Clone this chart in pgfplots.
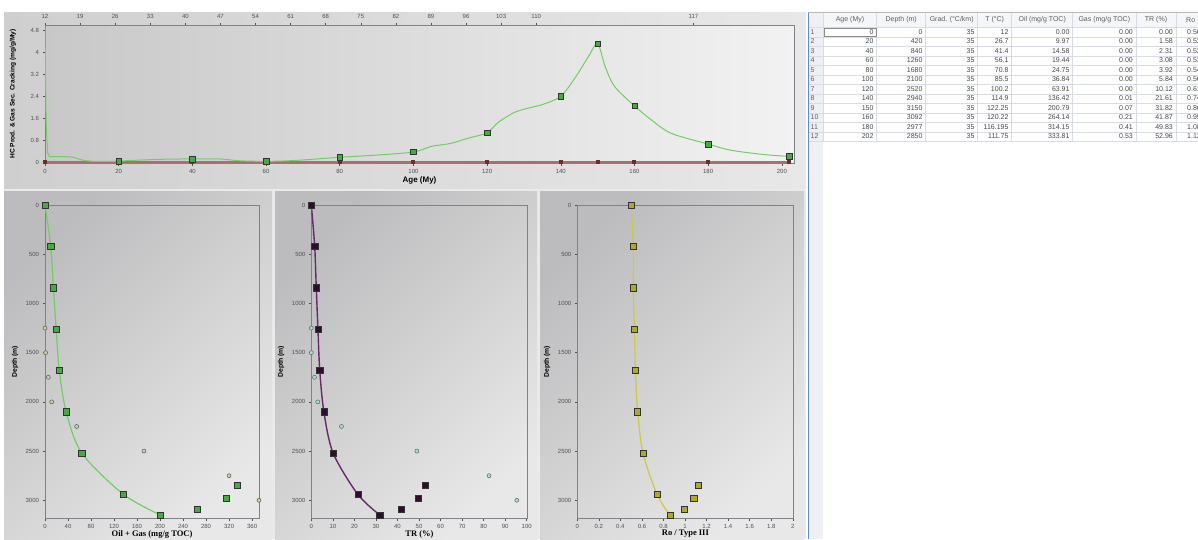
\documentclass[border=0pt]{standalone}
\usepackage{fontspec}
\setmainfont{Liberation Sans}
\newfontfamily\labserif{Liberation Serif}
\usepackage{pgfplots}
\pgfplotsset{compat=1.18}

\definecolor{tickc}{RGB}{80,80,80}
\definecolor{axc}{RGB}{128,130,138}
\definecolor{gline}{RGB}{115,205,100}
\definecolor{gfill}{RGB}{70,170,65}
\definecolor{gdraw}{RGB}{30,80,30}
\definecolor{rline}{RGB}{170,110,110}
\definecolor{rmark}{RGB}{110,45,45}
\definecolor{pline}{RGB}{105,40,105}
\definecolor{pfill}{RGB}{45,15,45}
\definecolor{oline}{RGB}{205,200,70}
\definecolor{ofill}{RGB}{175,170,35}
\definecolor{odraw}{RGB}{70,65,10}
\definecolor{c1fill}{RGB}{205,203,180}
\definecolor{c1draw}{RGB}{105,103,85}
\definecolor{c2fill}{RGB}{190,215,205}
\definecolor{c2draw}{RGB}{85,120,112}
\definecolor{pdark}{RGB}{188,188,190}
\definecolor{pmid}{RGB}{240,240,240}
\definecolor{plight}{RGB}{232,232,232}
\definecolor{panbase}{RGB}{234,234,234}
\definecolor{topL}{RGB}{207,207,207}
\definecolor{topR}{RGB}{232,232,232}
\definecolor{plotL}{RGB}{200,200,200}
\definecolor{plotR}{RGB}{242,242,242}
\definecolor{gridc}{RGB}{215,220,228}
\definecolor{tblue}{RGB}{90,140,205}
\definecolor{hdrbg}{RGB}{244,246,249}
\definecolor{rnbg}{RGB}{238,240,244}
\definecolor{ttext}{RGB}{72,72,72}
\definecolor{htext}{RGB}{95,95,95}

\pgfplotsset{
  base/.style={scale only axis, anchor=south west,
    axis line style={axc, line width=0.8pt},
    tick align=outside, major tick length=2.5pt,
    tick style={tickc, line width=0.5pt},
    ticklabel style={font=\fontsize{6}{6.5}\selectfont, text=tickc},
    /pgf/number format/assume math mode=true,
    /pgf/number format/set thousands separator={},
    xtick pos=bottom, ytick pos=left},
  depth/.style={base, y dir=reverse, ymin=0, ymax=3185, height=313.5pt,
    ytick={0,500,1000,1500,2000,2500,3000},
    ylabel={Depth (m)},
    ylabel style={at={(axis description cs:-0.14,0.5)}, anchor=center,
      font=\fontsize{6.8}{7}\selectfont\bfseries},
    xlabel style={at={(axis description cs:0.5,0)}, anchor=center, yshift=-15.5pt,
      font=\labserif\fontsize{8.5}{9}\selectfont\bfseries}},
  sqm/.style={only marks, mark=square*, mark size=3.1pt,
    mark options={fill=#1, draw=black!80, line width=0.5pt}},
  circ/.style 2 args={only marks, mark=*, mark size=2pt,
    mark options={fill=#1, draw=#2, line width=0.6pt}},
}

\begin{document}
\begin{tikzpicture}
\path[use as bounding box] (0pt,0pt) rectangle (1198pt,-539pt);
\begin{scope}[x=1pt,y=-1pt]
  \fill[white] (0,0) rectangle (1198,539);
  \fill[panbase] (4,12) rectangle (806,539);
  \shade[left color=topL, right color=topR] (4,12) rectangle (806,188);
  \shade[top color=pdark, middle color=pmid, bottom color=plight, shading angle=45] (4,191) rectangle (272,539);
  \shade[top color=pdark, middle color=pmid, bottom color=plight, shading angle=45] (275,191) rectangle (537,539);
  \shade[top color=pdark, middle color=pmid, bottom color=plight, shading angle=45] (540,191) rectangle (804,539);
\end{scope}

% ---------- top chart ----------
\begin{axis}[base, at={(45pt,-163pt)}, width=749pt, height=138pt,
  xmin=0, xmax=203.3, ymin=-0.03, ymax=5,
  xtick={0,20,40,60,80,100,120,140,160,180,200},
  ytick={0,0.8,1.6,2.4,3.2,4,4.8},
  axis background/.style={left color=plotL, right color=plotR},
  xlabel={Age (My)}, ylabel={HC Prod. \& Gas Sec. Cracking (mg/g/My)},
  xlabel style={at={(axis description cs:0.5,0)}, anchor=center, yshift=-17pt,
    font=\fontsize{8}{9}\selectfont\bfseries},
  ylabel style={at={(axis description cs:-0.0427,0.5)}, anchor=center,
    font=\fontsize{6.6}{7}\selectfont\bfseries}]
\addplot[rline, line width=1.6pt, mark=square*, mark size=1.2pt,
  mark options={fill=rmark, draw=rmark}] coordinates {
  (0,0) (20,0) (40,0) (60,0) (80,0) (100,0) (120,0) (140,0) (150,0) (160,0) (180,0) (202,0)};
\addplot[gline, line width=1pt] coordinates {(0,4.9) (0.3,1.5) (0.7,0.35) (1.2,0.2)};
\addplot[gline, line width=1pt, smooth, tension=0.5] coordinates {
  (1.2,0.2) (7,0.19) (10,0.08) (13,0.03) (18,0.03) (20,0.04) (30,0.1) (40,0.12) (47,0.12)
  (53,0.05) (60,0.03) (66,0.05) (72,0.1) (80,0.18) (90,0.26) (100,0.37) (105,0.58)
  (110,0.68) (115,0.88) (120,1.07) (123,1.45) (127.5,1.82) (132,2.0) (135,2.1) (140,2.4)
  (144,3.1) (147.5,3.85) (150,4.32) (152,3.5) (154.6,2.76) (160,2.05) (164.6,1.54)
  (170,1.05) (180,0.66) (186,0.44) (195,0.28) (202,0.21)};
\addplot[sqm=gfill, mark size=2.7pt] coordinates {
  (20,0.03) (40,0.11) (60,0.03) (80,0.18) (100,0.37) (120,1.07) (140,2.4) (150,4.32)
  (160,2.05) (180,0.66) (202,0.21)};
\end{axis}
\begin{axis}[scale only axis, anchor=south west, at={(45pt,-163pt)}, width=749pt, height=138pt,
  xmin=0, xmax=203.3, ymin=-0.03, ymax=5,
  axis x line=top, axis y line=none, axis line style={-, axc, line width=0.8pt},
  tick align=outside, major tick length=2.5pt, tick style={tickc, line width=0.5pt},
  ticklabel style={font=\fontsize{6}{6.5}\selectfont, text=tickc},
  /pgf/number format/assume math mode=true,
  xtick={0,9.52,19.05,28.57,38.10,47.62,57.14,66.67,76.19,85.71,95.24,104.76,114.29,123.81,133.33,176.0},
  xticklabels={12,19,26,33,40,47,54,61,68,75,82,89,96,103,110,117}]
\addplot[draw=none] coordinates {(0,0)};
\end{axis}

% ---------- bottom panel 1 ----------
\begin{axis}[depth, at={(45pt,-518.5pt)}, width=214pt, xmin=0, xmax=372,
  xtick={0,40,80,120,160,200,240,280,320,360}, xlabel={Oil + Gas (mg/g TOC)}]
\addplot[gline, line width=1.2pt, smooth] coordinates {
  (0,0) (9.97,420) (14.58,840) (19.44,1260) (24.75,1680) (36.84,2100) (63.91,2520) (136.43,2940) (200.86,3150)};
\addplot[circ={c1fill}{c1draw}] coordinates {
  (0,1250) (1,1500) (5.8,1750) (11.6,2000) (55,2250) (172,2500) (320,2750) (372,3000)};
\addplot[sqm=gfill] coordinates {
  (0,0) (9.97,420) (14.58,840) (19.44,1260) (24.75,1680) (36.84,2100) (63.91,2520) (136.43,2940)
  (200.86,3150) (264.35,3092) (314.56,2977) (334.34,2850)};
\end{axis}

% ---------- bottom panel 2 ----------
\begin{axis}[depth, at={(311.3pt,-518.5pt)}, width=216.4pt, xmin=0, xmax=100.46,
  xtick={0,10,20,30,40,50,60,70,80,90,100}, xlabel={TR (\%)}]
\addplot[pline, line width=1.4pt, smooth] coordinates {
  (0,0) (1.58,420) (2.31,840) (3.08,1260) (3.92,1680) (5.84,2100) (10.12,2520) (21.61,2940) (31.82,3150)};
\addplot[circ={c2fill}{c2draw}] coordinates {
  (0,1250) (0,1500) (1.5,1750) (3,2000) (14,2250) (49,2500) (82.5,2750) (95.4,3000)};
\addplot[sqm=pfill] coordinates {
  (0,0) (1.58,420) (2.31,840) (3.08,1260) (3.92,1680) (5.84,2100) (10.12,2520) (21.61,2940)
  (31.82,3150) (41.87,3092) (49.83,2977) (52.96,2850)};
\end{axis}

% ---------- bottom panel 3 ----------
\begin{axis}[depth, at={(577.3pt,-518.5pt)}, width=216.2pt, xmin=0, xmax=2.007,
  xtick={0,0.2,0.4,0.6,0.8,1,1.2,1.4,1.6,1.8,2}, xlabel={Ro / Type III}]
\addplot[oline, line width=1.2pt, smooth] coordinates {
  (0.50,0) (0.52,420) (0.52,840) (0.53,1260) (0.54,1680) (0.56,2100) (0.61,2520) (0.74,2940) (0.86,3150)};
\addplot[sqm=ofill] coordinates {
  (0.50,0) (0.52,420) (0.52,840) (0.53,1260) (0.54,1680) (0.56,2100) (0.61,2520) (0.74,2940)
  (0.86,3150) (0.99,3092) (1.08,2977) (1.12,2850)};
\end{axis}

% ---------- table ----------
\begin{scope}[x=1pt,y=-1pt]
  \fill[hdrbg] (808.3,12.7) rectangle (1198,27.3);
  \fill[rnbg] (808.3,12.7) rectangle (823.3,539);
  \foreach \i in {0,...,12} {
    \draw[gridc, line width=0.5pt] (808.3,27.3+9.5*\i) -- (1198,27.3+9.5*\i);
  }
  \foreach \xx in {823.3,876.7,925.7,977.7,1011.7,1072.7,1136,1176} {
    \draw[gridc, line width=0.5pt] (\xx,12.7) -- (\xx,141.3);
  }
  \draw[gray!55, line width=0.5pt] (808.3,12.7) -- (1198,12.7);
  \draw[black!45, line width=0.4pt] (824,28) rectangle (876,36.6);
  \draw[tblue, line width=1pt] (808.3,12.7) -- (808.3,539);
  \begin{scope}[every node/.style={font=\fontsize{7}{8}\selectfont, text=htext, inner sep=0pt}]
    \node at (850,20) {Age (My)};
    \node at (901.2,20) {Depth (m)};
    \node at (951.7,20) {Grad. (°C/km)};
    \node at (994.7,20) {T (°C)};
    \node at (1042.2,20) {Oil (mg/g TOC)};
    \node at (1104.3,20) {Gas (mg/g TOC)};
    \node at (1156,20) {TR (\%)};
    \node[anchor=west] at (1186,20) {Ro};
  \end{scope}
  \begin{scope}[every node/.style={font=\fontsize{7}{8}\selectfont, text=ttext, inner sep=0pt}]
  \foreach \a/\d/\t/\o/\g/\tr/\ro [count=\i] in {
      0/0/12/0.00/0.00/0.00/0.50,
      20/420/26.7/9.97/0.00/1.58/0.52,
      40/840/41.4/14.58/0.00/2.31/0.52,
      60/1260/56.1/19.44/0.00/3.08/0.53,
      80/1680/70.8/24.75/0.00/3.92/0.54,
      100/2100/85.5/36.84/0.00/5.84/0.56,
      120/2520/100.2/63.91/0.00/10.12/0.61,
      140/2940/114.9/136.42/0.01/21.61/0.74,
      150/3150/122.25/200.79/0.07/31.82/0.86,
      160/3092/120.22/264.14/0.21/41.87/0.99,
      180/2977/116.195/314.15/0.41/49.83/1.08,
      202/2850/111.75/333.81/0.53/52.96/1.12} {
    \pgfmathsetmacro\yy{27.3+(\i-0.5)*9.5}
    \node[anchor=west, text=htext] at (810.5,\yy) {\i};
    \node[anchor=east] at (873.7,\yy) {\a};
    \node[anchor=east] at (922.7,\yy) {\d};
    \node[anchor=east] at (974.7,\yy) {35};
    \node[anchor=east] at (1008.7,\yy) {\t};
    \node[anchor=east] at (1069.7,\yy) {\o};
    \node[anchor=east] at (1133,\yy) {\g};
    \node[anchor=east] at (1173,\yy) {\tr};
    \node[anchor=west] at (1187,\yy) {\ro};
  }
  \end{scope}
\end{scope}
\end{tikzpicture}
\end{document}
